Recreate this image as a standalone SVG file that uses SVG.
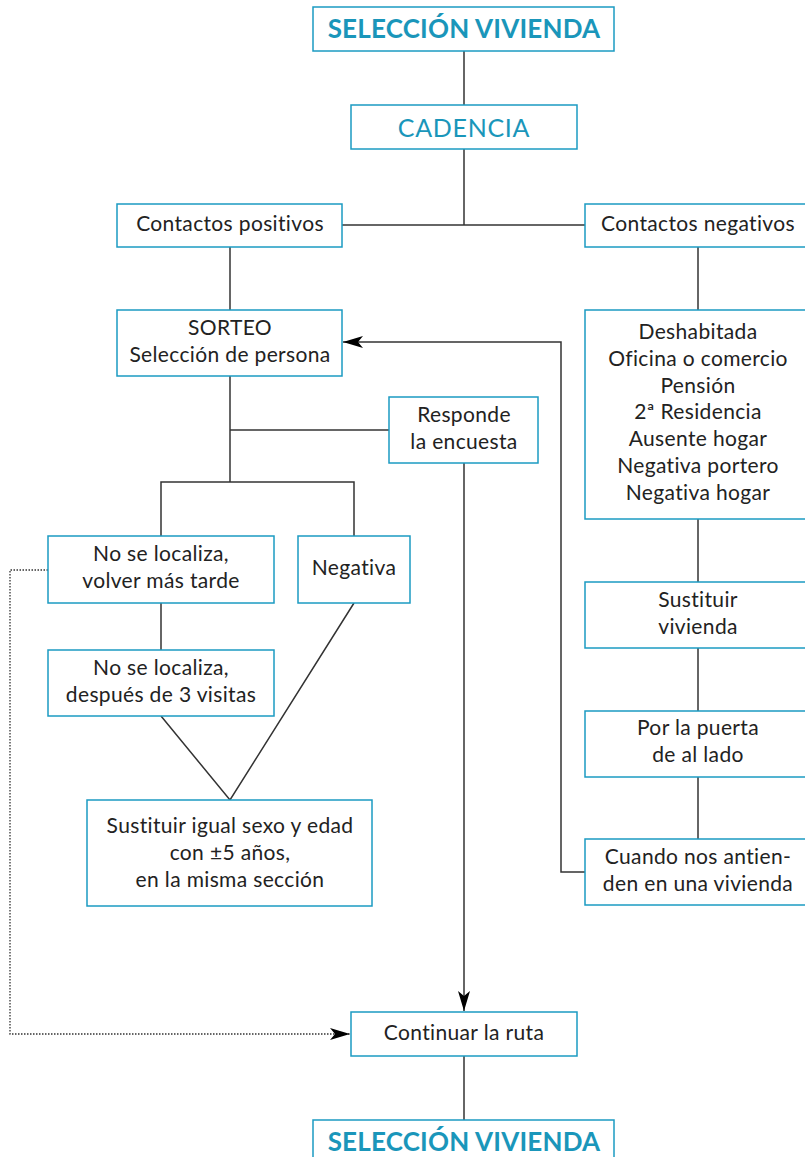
<svg xmlns="http://www.w3.org/2000/svg" width="805" height="1157" viewBox="0 0 805 1157">
<style>
.box{fill:#fff;stroke:#1b9bc2;stroke-width:1.5}
.t{font-family:Lato,"Liberation Sans",sans-serif;font-size:21px;letter-spacing:0.35px;fill:#222;text-anchor:middle}
.title{font-family:Lato,"Liberation Sans",sans-serif;font-size:26px;letter-spacing:0.2px;font-weight:bold;fill:#1a96ba;text-anchor:middle}
.cad{font-family:Lato,"Liberation Sans",sans-serif;font-size:25px;letter-spacing:0.7px;fill:#1a96ba;text-anchor:middle}
.ln{fill:none;stroke:#333;stroke-width:1.5}
.dot{fill:none;stroke:#333;stroke-width:1.3;stroke-dasharray:1.5 1.5}
</style>
<defs>
<marker id="arr" viewBox="0 0 20 12" refX="20" refY="6" markerWidth="20" markerHeight="12" markerUnits="userSpaceOnUse" orient="auto">
<path d="M0,0 L20,6 L0,12 L5,6 Z" fill="#000"/>
</marker>
</defs>
<g id="connectors">
<path class="ln" d="M464,51 V105"/>
<path class="ln" d="M464,149 V225"/>
<path class="ln" d="M342,225 H585"/>
<path class="ln" d="M230,247 V310"/>
<path class="ln" d="M698,247 V310"/>
<path class="ln" d="M698,519 V582"/>
<path class="ln" d="M698,648 V711"/>
<path class="ln" d="M698,777 V839"/>
<path class="ln" d="M585,872 H561 V342 H343" marker-end="url(#arr)"/>
<path class="ln" d="M230,376 V482"/>
<path class="ln" d="M230,430 H389"/>
<path class="ln" d="M161,536 V482 H354 V536"/>
<path class="ln" d="M161,603 V650"/>
<path class="ln" d="M161,716 L230,800 L354,603"/>
<path class="ln" d="M464,463 V1011" marker-end="url(#arr)"/>
<path class="dot" d="M48,570 H10 V1034 H350" marker-end="url(#arr)"/>
<path class="ln" d="M464,1056 V1120"/>
</g>
<g id="sel1"><rect class="box" x="313" y="7" width="301" height="44"/><text class="title" x="464" y="38">SELECCIÓN VIVIENDA</text></g>
<g id="cadencia"><rect class="box" x="351" y="105" width="226" height="44"/><text class="cad" x="464" y="137">CADENCIA</text></g>
<g id="cpos"><rect class="box" x="117" y="204" width="225" height="43"/><text class="t" x="230" y="231">Contactos positivos</text></g>
<g id="cneg"><rect class="box" x="585" y="204" width="225" height="43"/><text class="t" x="698" y="231">Contactos negativos</text></g>
<g id="sorteo"><rect class="box" x="117" y="310" width="225" height="66"/><text class="t" x="230" y="335">SORTEO</text><text class="t" x="230" y="362">Selección de persona</text></g>
<g id="responde"><rect class="box" x="389" y="397" width="149" height="66"/><text class="t" x="464" y="422">Responde</text><text class="t" x="464" y="449">la encuesta</text></g>
<g id="motivos"><rect class="box" x="585" y="310" width="225" height="209"/>
<text class="t" x="698" y="339">Deshabitada</text>
<text class="t" x="698" y="366">Oficina o comercio</text>
<text class="t" x="698" y="393">Pensión</text>
<text class="t" x="698" y="419">2ª Residencia</text>
<text class="t" x="698" y="446">Ausente hogar</text>
<text class="t" x="698" y="473">Negativa portero</text>
<text class="t" x="698" y="500">Negativa hogar</text></g>
<g id="nolocal1"><rect class="box" x="48" y="536" width="226" height="67"/><text class="t" x="161" y="561">No se localiza,</text><text class="t" x="161" y="588">volver más tarde</text></g>
<g id="negativa"><rect class="box" x="298" y="536" width="112" height="67"/><text class="t" x="354" y="575">Negativa</text></g>
<g id="nolocal2"><rect class="box" x="48" y="650" width="226" height="66"/><text class="t" x="161" y="675">No se localiza,</text><text class="t" x="161" y="702">después de 3 visitas</text></g>
<g id="sustpers"><rect class="box" x="87" y="800" width="285" height="106"/><text class="t" x="230" y="833">Sustituir igual sexo y edad</text><text class="t" x="230" y="860">con ±5 años,</text><text class="t" x="230" y="887">en la misma sección</text></g>
<g id="sustviv"><rect class="box" x="585" y="582" width="225" height="66"/><text class="t" x="698" y="607">Sustituir</text><text class="t" x="698" y="634">vivienda</text></g>
<g id="puerta"><rect class="box" x="585" y="711" width="225" height="66"/><text class="t" x="698" y="735">Por la puerta</text><text class="t" x="698" y="762">de al lado</text></g>
<g id="cuando"><rect class="box" x="585" y="839" width="225" height="66"/><text class="t" x="698" y="864">Cuando nos antien-</text><text class="t" x="698" y="891">den en una vivienda</text></g>
<g id="continuar"><rect class="box" x="351" y="1012" width="226" height="44"/><text class="t" x="464" y="1040">Continuar la ruta</text></g>
<g id="sel2"><rect class="box" x="313" y="1120" width="301" height="44"/><text class="title" x="464" y="1151">SELECCIÓN VIVIENDA</text></g>
</svg>
